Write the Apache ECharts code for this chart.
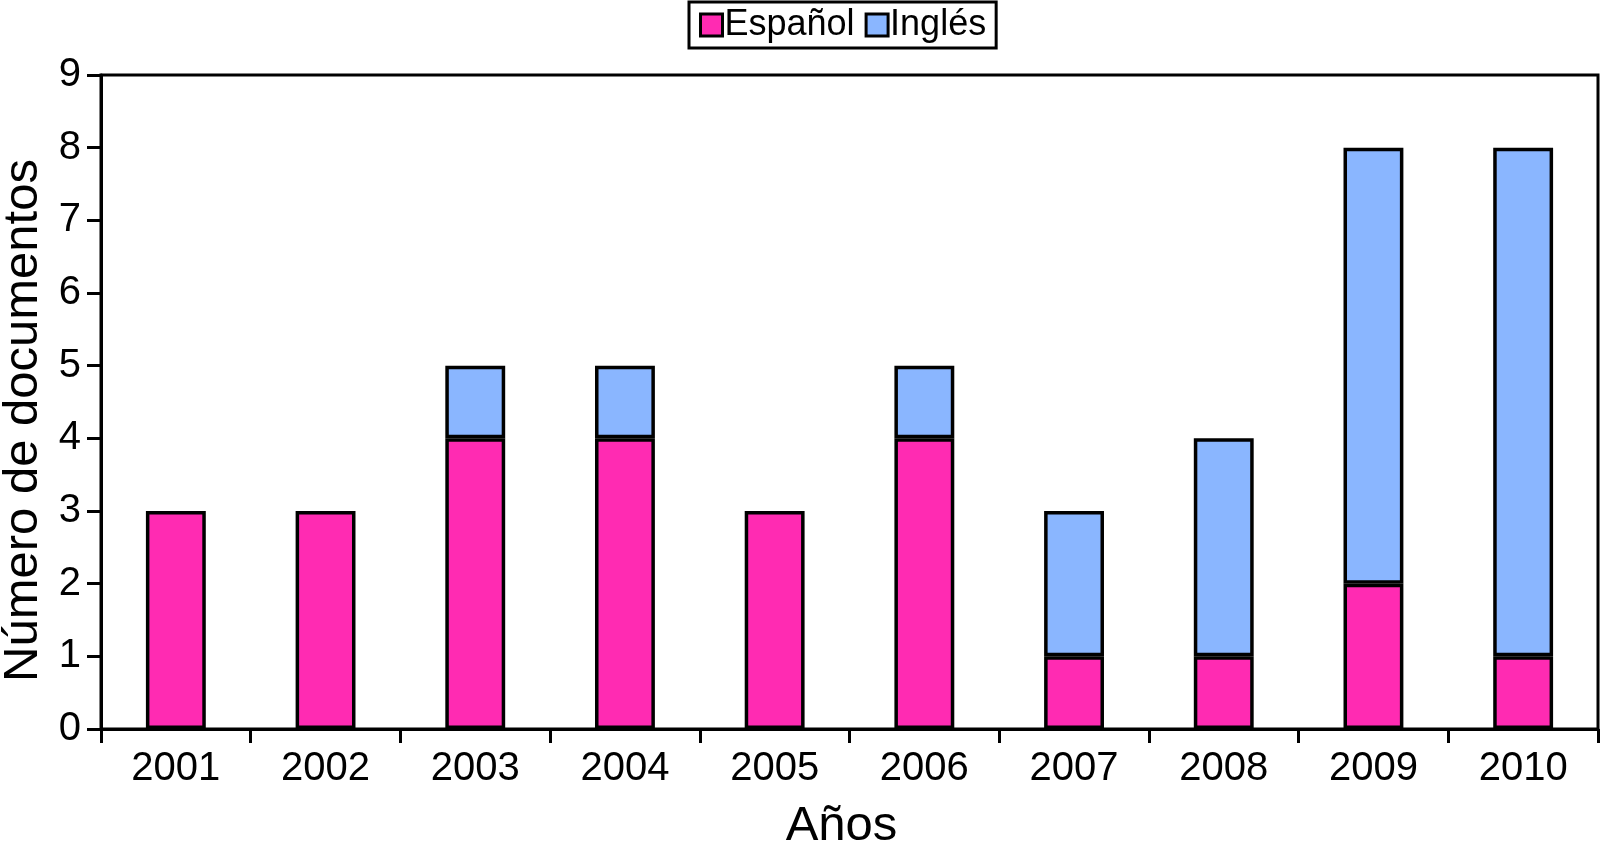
<!DOCTYPE html>
<html><head><meta charset="utf-8">
<script src="https://cdn.jsdelivr.net/npm/echarts@6/dist/echarts.min.js"></script>
<style>html,body{margin:0;padding:0;background:#fff}#c{width:1604px;height:854px}</style>
</head><body><div id="c"></div>
<script>
const years = ['2001','2002','2003','2004','2005','2006','2007','2008','2009','2010'];
const espanol = [3,3,4,4,3,4,1,1,2,1];
const ingles  = [0,0,1,1,0,1,2,3,6,7];
const yTicks = [0,1,2,3,4,5,6,7,8,9];
const FONT = '"Liberation Sans", Arial, sans-serif';
const chart = echarts.init(document.getElementById('c'), null, {renderer:'canvas'});
chart.setOption({
  animation:false,
  backgroundColor:'#fff',
  textStyle:{fontFamily:FONT,color:'#000'},
  legend:{
    top:2, left:689,
    data:['Español','Inglés'],
    borderColor:'#000', borderWidth:3, padding:[5,10,5,10],
    itemGap:10, itemWidth:22, itemHeight:22, icon:'rect',
    textStyle:{fontFamily:FONT,fontSize:36,color:'#000',padding:[0,0,0,-3]},
    itemStyle:{borderColor:'#000',borderWidth:3}
  },
  grid:{left:101,right:6,top:75,bottom:125,show:true,borderColor:'#000',borderWidth:3,
        backgroundColor:'transparent',outerBoundsMode:'none',containLabel:false},
  xAxis:{
    type:'category', data:years,
    name:'Años', nameLocation:'middle', nameGap:73,
    nameTextStyle:{fontFamily:FONT,fontSize:49,color:'#000',padding:[0,16,0,0]},
    axisLine:{lineStyle:{color:'#000',width:3}},
    axisTick:{show:true,length:14,lineStyle:{color:'#000',width:3}},
    axisLabel:{fontFamily:FONT,fontSize:40,color:'#000',margin:20}
  },
  yAxis:{
    type:'value', min:0, max:9, interval:1,
    name:'Número de documentos', nameLocation:'middle', nameGap:48,
    nameTextStyle:{fontFamily:FONT,fontSize:49,color:'#000',padding:[0,37,0,0]},
    axisLine:{show:true,lineStyle:{color:'#000',width:3}},
    axisTick:{show:true,length:14,lineStyle:{color:'#000',width:3}},
    axisLabel:{fontFamily:FONT,fontSize:40,color:'#000',margin:20,
      formatter:v=>yTicks.includes(v)?String(v):''},
    splitLine:{show:false}
  },
  series:[
    {name:'Español',type:'bar',stack:'t',data:espanol,barWidth:'40%',
     itemStyle:{color:'#ff2bb2',borderColor:'#000',borderWidth:3.5}},
    {name:'Inglés',type:'bar',stack:'t',data:ingles.map(v=>v===0?null:v),barWidth:'40%',
     itemStyle:{color:'#8ab6ff',borderColor:'#000',borderWidth:3.5}}
  ]
});
</script></body></html>
